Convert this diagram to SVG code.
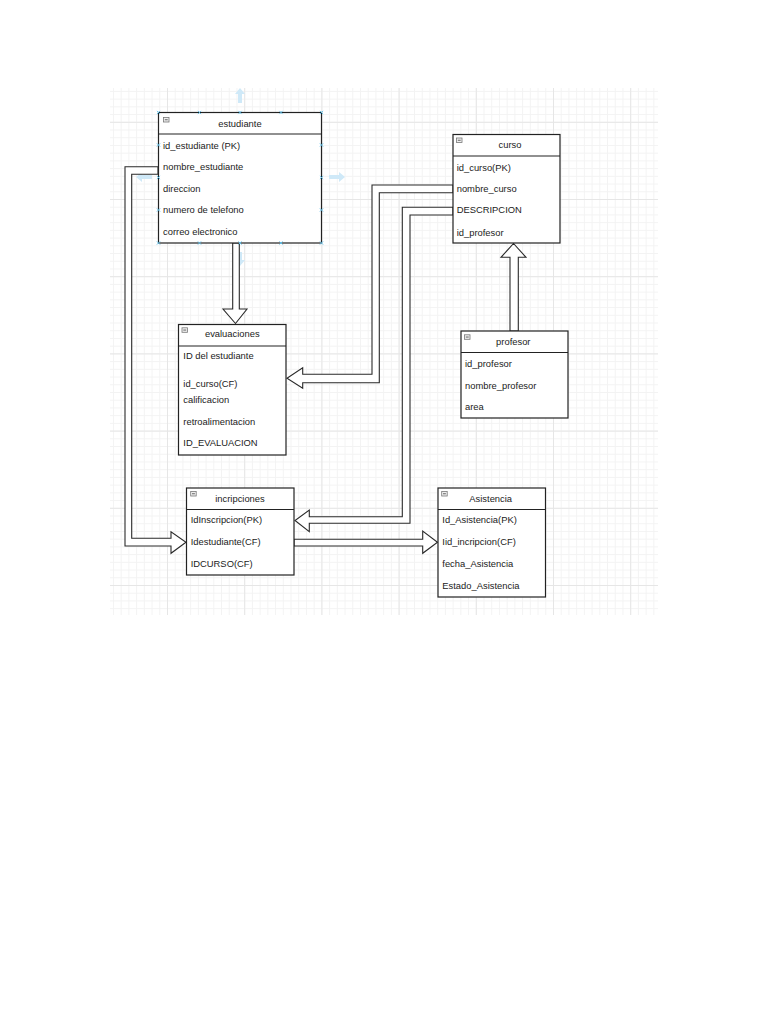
<svg xmlns="http://www.w3.org/2000/svg" width="768" height="1024" viewBox="0 0 768 1024">
<defs>
<pattern id="minor" x="89.8" y="44.6" width="7.72" height="7.72" patternUnits="userSpaceOnUse">
<path d="M0 0.5H7.72M0.5 0V7.72" fill="none" stroke="#f3f3f3" stroke-width="1"/>
</pattern>
<pattern id="major" x="89.8" y="44.6" width="77.2" height="77.2" patternUnits="userSpaceOnUse">
<path d="M0 0.5H77.2M0.5 0V77.2" fill="none" stroke="#e6e6e6" stroke-width="1"/>
</pattern>
<g id="mini">
<rect x="0" y="0" width="5.5" height="4.5" fill="#eee" stroke="#777" stroke-width="0.8"/>
<path d="M1.3 2.25H4.2" stroke="#444" stroke-width="0.8"/>
</g>
<path id="hx" d="M-1.6 -1.6L1.6 1.6M-1.6 1.6L1.6 -1.6" stroke="#5fbfea" stroke-width="0.9" fill="none"/>
</defs>
<style>
.box{fill:#fff;stroke:#222;stroke-width:1.2}
.sep{stroke:#222;stroke-width:1.1}
.t{font-family:"Liberation Sans",Arial,sans-serif;font-size:9.4px;fill:#222}
.ttl{text-anchor:middle}
.arr{fill:#fff;stroke:#2a2a2a;stroke-width:1.1;stroke-linejoin:miter}
.hint{fill:#cfe9f8;stroke:none}
</style>
<rect width="768" height="1024" fill="#fff"/>
<rect x="110" y="88" width="548" height="527" fill="url(#minor)"/>
<rect x="110" y="88" width="548" height="527" fill="url(#major)"/>

<g id="hints">
<path class="hint" d="M240 88L245 94H242V103H238V94H235Z"/>
<path class="hint" d="M136 177L142 172V175H152V179H142V182Z"/>
<path class="hint" d="M345 177L339 172V175H329V179H339V182Z"/>
<path class="hint" d="M240 266L245 260H242V252H238V260H235Z"/>
</g>

<g id="connectors">
<polygon class="arr" points="232.7,243 232.7,309 223,309 235.5,323.5 247,309 239.3,309 239.3,243"/>
<polygon class="arr" points="453,185 372,185 372,374.3 302.7,374.3 302.7,367.7 287,378.3 302.7,388.3 302.7,382.7 379.3,382.7 379.3,192.7 453,192.7"/>
<polygon class="arr" points="453,207.3 402.3,207.3 402.3,516.7 309.3,516.7 309.3,510 295,520.5 309.3,531.7 309.3,523.3 410,523.3 410,215 453,215"/>
<polygon class="arr" points="158,166.7 125,166.7 125,546 171,546 171,553.3 186,542.3 171,531.7 171,538.3 131.7,538.3 131.7,174.3 158,174.3"/>
<polygon class="arr" points="294,539.3 422.7,539.3 422.7,531 437.5,542.3 422.7,553.3 422.7,546 294,546"/>
<polygon class="arr" points="510,331 510,257.3 501,257.3 513.5,243.5 526,257.3 518.3,257.3 518.3,331"/>
</g>

<g id="estudiante">
<rect class="box" x="158.5" y="112.5" width="163" height="130.5"/>
<line class="sep" x1="158.5" y1="134" x2="321.5" y2="134"/>
<use href="#mini" x="163.5" y="117.5"/>
<text class="t ttl" x="240" y="126.6">estudiante</text>
<text class="t" x="163" y="148.6">id_estudiante (PK)</text>
<text class="t" x="163" y="170.3">nombre_estudiante</text>
<text class="t" x="163" y="191.6">direccion</text>
<text class="t" x="163" y="213.3">numero de telefono</text>
<text class="t" x="163" y="235.3">correo electronico</text>
<use href="#hx" x="158.5" y="112.5"/><use href="#hx" x="199.5" y="112.5"/><use href="#hx" x="240" y="112.5"/><use href="#hx" x="281" y="112.5"/><use href="#hx" x="321.5" y="112.5"/>
<use href="#hx" x="158.5" y="243"/><use href="#hx" x="199.5" y="243"/><use href="#hx" x="240" y="243"/><use href="#hx" x="281" y="243"/><use href="#hx" x="321.5" y="243"/>
<use href="#hx" x="158.5" y="145"/><use href="#hx" x="158.5" y="177.5"/><use href="#hx" x="158.5" y="210"/>
<use href="#hx" x="321.5" y="145"/><use href="#hx" x="321.5" y="177.5"/><use href="#hx" x="321.5" y="210"/>
</g>

<g id="curso">
<rect class="box" x="453" y="134.5" width="107" height="108.5"/>
<line class="sep" x1="453" y1="156" x2="560" y2="156"/>
<use href="#mini" x="456.5" y="138"/>
<text class="t ttl" x="510" y="148.3">curso</text>
<text class="t" x="456.7" y="170.6">id_curso(PK)</text>
<text class="t" x="456.7" y="192.3">nombre_curso</text>
<text class="t" x="456.7" y="213.3">DESCRIPCION</text>
<text class="t" x="456.7" y="235.6">id_profesor</text>
</g>

<g id="evaluaciones">
<rect class="box" x="178.5" y="324.5" width="107.5" height="130.5"/>
<line class="sep" x1="178.5" y1="346" x2="286" y2="346"/>
<use href="#mini" x="182" y="327.8"/>
<text class="t ttl" x="232.3" y="337.3">evaluaciones</text>
<text class="t" x="183.3" y="359.3">ID del estudiante</text>
<text class="t" x="183.3" y="386.6">id_curso(CF)</text>
<text class="t" x="183.3" y="402.6">calificacion</text>
<text class="t" x="183.3" y="425">retroalimentacion</text>
<text class="t" x="183.3" y="446">ID_EVALUACION</text>
</g>

<g id="profesor">
<rect class="box" x="461" y="331" width="107" height="87"/>
<line class="sep" x1="461" y1="352.5" x2="568" y2="352.5"/>
<use href="#mini" x="464.5" y="334.8"/>
<text class="t ttl" x="513.3" y="345">profesor</text>
<text class="t" x="465" y="366.6">id_profesor</text>
<text class="t" x="465" y="389">nombre_profesor</text>
<text class="t" x="465" y="410">area</text>
</g>

<g id="incripciones">
<rect class="box" x="186.5" y="488" width="107.5" height="87"/>
<line class="sep" x1="186.5" y1="509.5" x2="294" y2="509.5"/>
<use href="#mini" x="190.7" y="491.5"/>
<text class="t ttl" x="240" y="501.6">incripciones</text>
<text class="t" x="190.7" y="523.3">IdInscripcion(PK)</text>
<text class="t" x="190.7" y="545">Idestudiante(CF)</text>
<text class="t" x="190.7" y="567.3">IDCURSO(CF)</text>
</g>

<g id="Asistencia">
<rect class="box" x="438" y="488" width="107.5" height="109"/>
<line class="sep" x1="438" y1="509.5" x2="545.5" y2="509.5"/>
<use href="#mini" x="441.7" y="491.5"/>
<text class="t ttl" x="490.7" y="501.6">Asistencia</text>
<text class="t" x="442.3" y="523.3">Id_Asistencia(PK)</text>
<text class="t" x="442.3" y="545">Iid_incripcion(CF)</text>
<text class="t" x="442.3" y="566.6">fecha_Asistencia</text>
<text class="t" x="442.3" y="589">Estado_Asistencia</text>
</g>
</svg>
